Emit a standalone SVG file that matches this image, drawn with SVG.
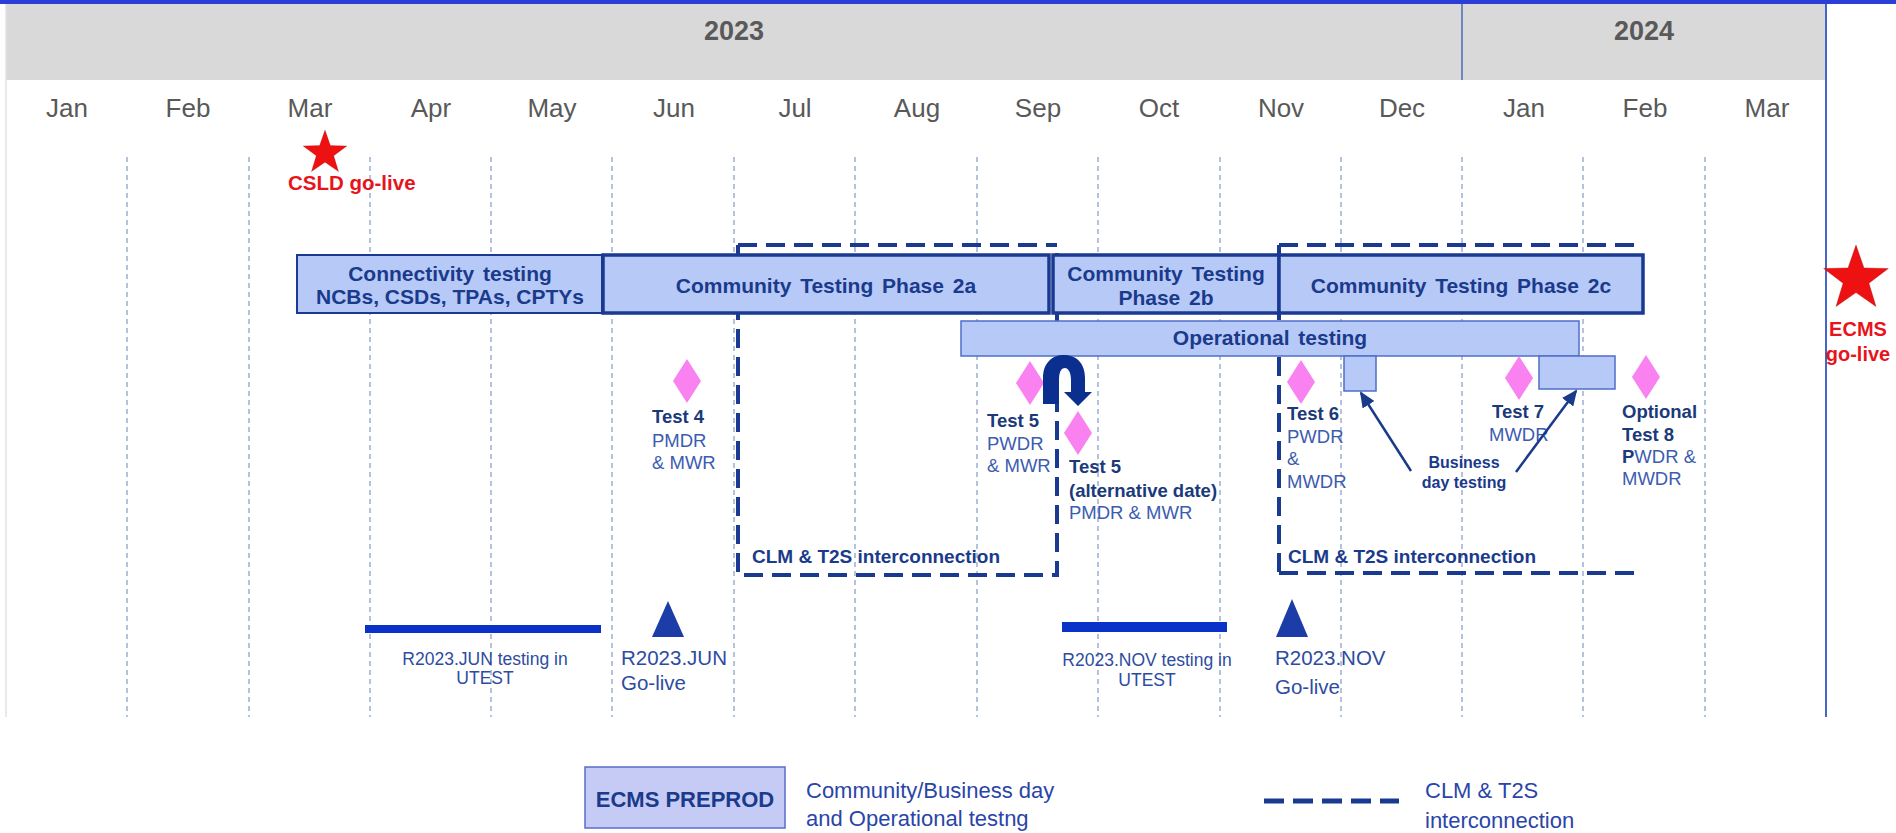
<svg xmlns="http://www.w3.org/2000/svg" width="1896" height="833" viewBox="0 0 1896 833">
<style>
text{font-family:"Liberation Sans",Arial,sans-serif}
.month{font-size:26px;fill:#595959;text-anchor:middle}
.year{font-size:27px;font-weight:bold;fill:#595959;text-anchor:middle}
.grid{stroke:#8ea2cc;stroke-width:1.3;stroke-dasharray:5 4;fill:none}
.box{fill:#b7c9f7;stroke:#1a3a92;stroke-width:3.5}
.box1{fill:#b7c9f7;stroke:#1a3a92;stroke-width:2}
.op{fill:#b7c9f7;stroke:#4f6fc8;stroke-width:1.5}
.bt{font-size:21px;font-weight:bold;fill:#1a3a8c;text-anchor:middle;word-spacing:3px}
.clm{fill:none;stroke:#1a3a92;stroke-width:4;stroke-dasharray:19 9}
.clmt{font-size:19px;font-weight:bold;fill:#1a3a8c}
.tb{font-size:18.5px;font-weight:bold;fill:#1a3a7a}
.tn{font-size:18.5px;fill:#3c5cb0}
.dia{fill:#f982f0}
.red{font-weight:bold;fill:#e8141c}
.bot{font-size:17.5px;fill:#2d4ca0}
.bot2{font-size:20.5px;fill:#2d4ca0}
.leg{font-size:22px;fill:#2a45a8}
</style>
<defs>
<polygon id="star" points="0,-100 23.5,-32.4 95.1,-30.9 38,12.4 58.8,80.9 0,40 -58.8,80.9 -38,12.4 -95.1,-30.9 -23.5,-32.4"/>
<polygon id="diamond" points="0,-22 14,0 0,22 -14,0"/>
<marker id="ah" markerWidth="16" markerHeight="14" refX="14" refY="7" orient="auto" markerUnits="userSpaceOnUse">
<path d="M0,0 L16,7 L0,14 Z" fill="#1a3a8c"/>
</marker>
</defs>

<g id="background">
<rect x="0" y="0" width="1896" height="833" fill="#ffffff"/>
<rect x="0" y="0" width="1896" height="4" fill="#2b3fd6"/>
<rect x="6" y="4" width="1820" height="76" fill="#d9d9d9"/>
<line x1="6" y1="4" x2="6" y2="717" stroke="#e2e2e2" stroke-width="1.5"/>
<line x1="1462" y1="4" x2="1462" y2="80" stroke="#6f86c4" stroke-width="2"/>
<line x1="1826" y1="4" x2="1826" y2="717" stroke="#4466cc" stroke-width="2"/>
</g>

<g id="header">
<text class="year" x="734" y="40">2023</text>
<text class="year" x="1644" y="40">2024</text>
<text class="month" x="67" y="117">Jan</text>
<text class="month" x="188" y="117">Feb</text>
<text class="month" x="310" y="117">Mar</text>
<text class="month" x="431" y="117">Apr</text>
<text class="month" x="552" y="117">May</text>
<text class="month" x="674" y="117">Jun</text>
<text class="month" x="795" y="117">Jul</text>
<text class="month" x="917" y="117">Aug</text>
<text class="month" x="1038" y="117">Sep</text>
<text class="month" x="1159" y="117">Oct</text>
<text class="month" x="1281" y="117">Nov</text>
<text class="month" x="1402" y="117">Dec</text>
<text class="month" x="1524" y="117">Jan</text>
<text class="month" x="1645" y="117">Feb</text>
<text class="month" x="1767" y="117">Mar</text>
</g>

<g id="gridlines">
<line class="grid" x1="127" y1="157" x2="127" y2="717"/>
<line class="grid" x1="249" y1="157" x2="249" y2="717"/>
<line class="grid" x1="370" y1="157" x2="370" y2="717"/>
<line class="grid" x1="491" y1="157" x2="491" y2="717"/>
<line class="grid" x1="612" y1="157" x2="612" y2="717"/>
<line class="grid" x1="734" y1="157" x2="734" y2="717"/>
<line class="grid" x1="855" y1="157" x2="855" y2="717"/>
<line class="grid" x1="977" y1="157" x2="977" y2="717"/>
<line class="grid" x1="1098" y1="157" x2="1098" y2="717"/>
<line class="grid" x1="1220" y1="157" x2="1220" y2="717"/>
<line class="grid" x1="1341" y1="157" x2="1341" y2="717"/>
<line class="grid" x1="1462" y1="157" x2="1462" y2="717"/>
<line class="grid" x1="1583" y1="157" x2="1583" y2="717"/>
<line class="grid" x1="1705" y1="157" x2="1705" y2="717"/>
</g>

<g id="csld-golive">
<use href="#star" transform="translate(325,153) scale(0.23)" fill="#ee1111" stroke="#a00000" stroke-width="1" vector-effect="non-scaling-stroke"/>
<text class="red" x="288" y="190" font-size="20.5">CSLD go-live</text>
</g>

<g id="ecms-golive">
<use href="#star" transform="translate(1856,279) scale(0.34)" fill="#ee1111" stroke="#a00000" stroke-width="1" vector-effect="non-scaling-stroke"/>
<text class="red" x="1858" y="336" font-size="20" text-anchor="middle">ECMS</text>
<text class="red" x="1858" y="361" font-size="20" text-anchor="middle">go-live</text>
</g>

<g id="clm-interconnection-1">
<path class="clm" d="M738,245 L1057,245 M738,245 L738,575 L1057,575 L1057,245"/>
<text class="clmt" x="752" y="563">CLM &amp; T2S interconnection</text>
</g>

<g id="clm-interconnection-2">
<path class="clm" d="M1279,245 L1643,245 M1279,245 L1279,578 M1279,573 L1634,573"/>
<text class="clmt" x="1288" y="563">CLM &amp; T2S interconnection</text>
</g>

<g id="connectivity-testing">
<rect class="box1" x="297" y="255" width="305" height="58"/>
<text class="bt" x="450" y="281">Connectivity testing</text>
<text class="bt" x="450" y="304" font-size="18" style="word-spacing:0">NCBs, CSDs, TPAs, CPTYs</text>
</g>

<g id="phase-2a">
<rect class="box" x="603" y="255" width="446" height="58"/>
<text class="bt" x="826" y="293">Community Testing Phase 2a</text>
</g>

<g id="phase-2b">
<rect class="box" x="1053" y="255" width="226" height="58"/>
<text class="bt" x="1166" y="281">Community Testing</text>
<text class="bt" x="1166" y="305">Phase 2b</text>
</g>

<g id="phase-2c">
<rect class="box" x="1279" y="255" width="364" height="58"/>
<text class="bt" x="1461" y="293">Community Testing Phase 2c</text>
</g>

<g id="operational-testing">
<rect class="op" x="961" y="321" width="618" height="35"/>
<text class="bt" x="1270" y="345">Operational testing</text>
</g>

<g id="business-day-box-1">
<rect class="op" x="1344" y="356" width="32" height="35"/>
</g>
<g id="business-day-box-2">
<rect class="op" x="1539" y="356" width="76" height="33"/>
</g>

<g id="business-day-label">
<text x="1464" y="468" font-size="16" font-weight="bold" fill="#1a3a8c" text-anchor="middle">Business</text>
<text x="1464" y="488" font-size="16" font-weight="bold" fill="#1a3a8c" text-anchor="middle">day testing</text>
</g>

<g id="test-4">
<use href="#diamond" class="dia" transform="translate(687,381)"/>
<text class="tb" x="652" y="423">Test 4</text>
<text class="tn" x="652" y="447">PMDR</text>
<text class="tn" x="652" y="469">&amp; MWR</text>
</g>

<g id="test-5">
<use href="#diamond" class="dia" transform="translate(1030,383)"/>
<text class="tb" x="987" y="427">Test 5</text>
<text class="tn" x="987" y="450">PWDR</text>
<text class="tn" x="987" y="472">&amp; MWR</text>
</g>

<g id="test-5-alt">
<use href="#diamond" class="dia" transform="translate(1078,433)"/>
<text class="tb" x="1069" y="473">Test 5</text>
<text class="tb" x="1069" y="497">(alternative date)</text>
<text class="tn" x="1069" y="519">PMDR &amp; MWR</text>
</g>

<g id="test-6">
<use href="#diamond" class="dia" transform="translate(1301,382)"/>
<text class="tb" x="1287" y="420">Test 6</text>
<text class="tn" x="1287" y="443">PWDR</text>
<text class="tn" x="1287" y="465">&amp;</text>
<text class="tn" x="1287" y="488">MWDR</text>
</g>

<g id="test-7">
<use href="#diamond" class="dia" transform="translate(1519,378)"/>
<text class="tb" x="1492" y="418">Test 7</text>
<text class="tn" x="1489" y="441">MWDR</text>
</g>

<g id="test-8">
<use href="#diamond" class="dia" transform="translate(1646,377)"/>
<text class="tb" x="1622" y="418">Optional</text>
<text class="tb" x="1622" y="441">Test 8</text>
<text class="tn" x="1622" y="463"><tspan font-weight="bold" fill="#1a3a7a">P</tspan>WDR &amp;</text>
<text class="tn" x="1622" y="485">MWDR</text>
</g>

<g id="r2023-jun-testing">
<rect x="365" y="625" width="236" height="8" fill="#0a32c8"/>
<text class="bot" x="485" y="665" text-anchor="middle">R2023.JUN testing in</text>
<text class="bot" x="485" y="684" text-anchor="middle">UTEST</text>
</g>

<g id="r2023-jun-golive">
<polygon points="668,601 684,637 652,637" fill="#1c3ca8"/>
<text class="bot2" x="621" y="665">R2023.JUN</text>
<text class="bot2" x="621" y="690">Go-live</text>
</g>

<g id="r2023-nov-testing">
<rect x="1062" y="622" width="165" height="10" fill="#0a32c8"/>
<text class="bot" x="1147" y="666" text-anchor="middle">R2023.NOV testing in</text>
<text class="bot" x="1147" y="686" text-anchor="middle">UTEST</text>
</g>

<g id="r2023-nov-golive">
<polygon points="1292,599 1308,637 1276,637" fill="#1c3ca8"/>
<text class="bot2" x="1275" y="665">R2023.NOV</text>
<text class="bot2" x="1275" y="694">Go-live</text>
</g>

<g id="connectors">
<path d="M1043,404 L1043,378 C1043,363 1052,355 1064,355 C1077,355 1085,364 1085,378 L1085,392 L1092,392 L1078,406 L1064,392 L1071,392 L1071,380 C1071,372 1068,368 1065,368 C1061,368 1059,372 1059,380 L1059,404 Z" fill="#0b2f8f"/>
<line x1="1411" y1="471" x2="1361" y2="393" stroke="#1a3a8c" stroke-width="2.5" marker-end="url(#ah)"/>
<line x1="1516" y1="472" x2="1576" y2="391" stroke="#1a3a8c" stroke-width="2.5" marker-end="url(#ah)"/>
</g>

<g id="legend">
<rect x="585" y="767" width="200" height="61" fill="#c5cbf5" stroke="#5a6cc8" stroke-width="1.5"/>
<text x="685" y="807" font-size="22" font-weight="bold" fill="#1a3a8c" text-anchor="middle">ECMS PREPROD</text>
<text class="leg" x="806" y="798">Community/Business day</text>
<text class="leg" x="806" y="826">and Operational testng</text>
<line x1="1264" y1="801" x2="1399" y2="801" stroke="#1a3a92" stroke-width="5" stroke-dasharray="20 9"/>
<text class="leg" x="1425" y="798">CLM &amp; T2S</text>
<text class="leg" x="1425" y="828">interconnection</text>
</g>
</svg>
